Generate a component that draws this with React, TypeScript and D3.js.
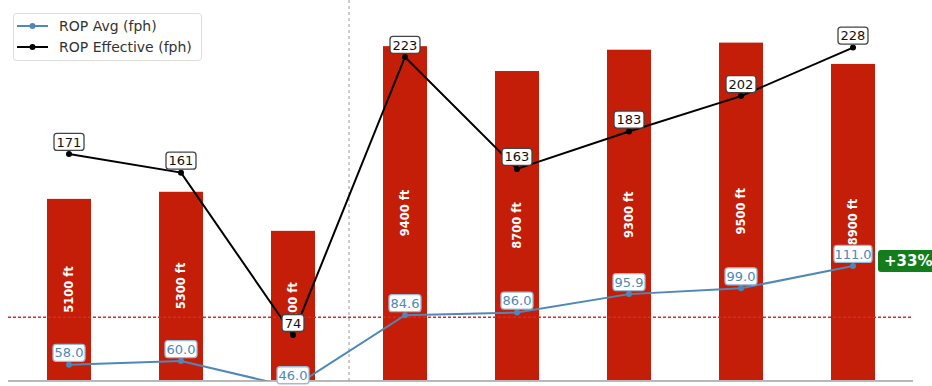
import React from "react";
import * as d3 from "d3";

// Per-well drilling data
const wells = ["W1", "W2", "W3", "W4", "W5", "W6", "W7", "W8"];
const depthFt = [5100, 5300, 4200, 9400, 8700, 9300, 9500, 8900];
const ropAvg = [58.0, 60.0, 46.0, 84.6, 86.0, 95.9, 99.0, 111.0];
const ropEffective = [171, 161, 74, 223, 163, 183, 202, 228];
const baselineAvg = 83.5;
const improvementLabel = "+33%";
const legendItems = ["ROP Avg (fph)", "ROP Effective (fph)"];

const W = 932;
const H = 386;
const plotLeft = 8;
const plotRight = 913;
const plotBottom = 381;

const RED = "#c41d08";
const BLUE = "#4d88b9";
const FONT = "DejaVu Sans, sans-serif";

function Label({ x, y, text, color, border, w }: any) {
  const h = 17;
  return (
    <g>
      <rect x={x - w / 2} y={y - h / 2} width={w} height={h} rx={3} fill="white" stroke={border} strokeWidth={1.3} />
      <text x={x} y={y + 4.6} textAnchor="middle" fontSize={13} fill={color} fontFamily={FONT}>
        {text}
      </text>
    </g>
  );
}

export default function App() {
  const x = d3.scalePoint<string>().domain(wells).range([13, 909]).padding(0.5);
  const yDepth = d3.scaleLinear().domain([0, 10700]).range([380, 0]);
  const yRop = d3.scaleLinear().domain([49.35, 253.5]).range([plotBottom, 0]);
  const barW = 44;

  const line = d3
    .line<number>()
    .x((_, i) => x(wells[i])!)
    .y((d) => yRop(d));

  const splitX = (x(wells[2])! + x(wells[3])!) / 2;

  return (
    <div style={{ position: "fixed", left: 0, top: 0 }}>
      <svg width={W} height={H} style={{ display: "block", background: "white" }}>
        <defs>
          <clipPath id="plot">
            <rect x={0} y={0} width={W} height={plotBottom} />
          </clipPath>
        </defs>
        {/* depth bars */}
        {depthFt.map((d, i) => (
          <rect key={i} x={x(wells[i])! - barW / 2} y={yDepth(d)} width={barW} height={yDepth(0) - yDepth(d)} fill={RED} />
        ))}
        {depthFt.map((d, i) => {
          const cx = x(wells[i])!;
          const cy = (yDepth(d) + yDepth(0)) / 2;
          return (
            <text
              key={i}
              transform={`translate(${cx + 4},${cy}) rotate(-90)`}
              textAnchor="middle"
              fontSize={11.5}
              fontWeight="bold"
              fill="white"
              fontFamily={FONT}
            >
              {`${d} ft`}
            </text>
          );
        })}

        {/* reference lines */}
        <line x1={splitX} x2={splitX} y1={0} y2={plotBottom} stroke="#999" strokeWidth={1} strokeDasharray="3,3" />
        <line x1={plotLeft} x2={plotRight} y1={yRop(baselineAvg)} y2={yRop(baselineAvg)} stroke="#d62b2b" strokeWidth={1.3} strokeDasharray="3,2" />

        {/* ROP lines */}
        <g clipPath="url(#plot)">
          <path d={line(ropAvg)!} fill="none" stroke={BLUE} strokeWidth={2} />
          {ropAvg.map((v, i) => (
            <circle key={i} cx={x(wells[i])!} cy={yRop(v)} r={3} fill={BLUE} />
          ))}
        </g>
        <path d={line(ropEffective)!} fill="none" stroke="black" strokeWidth={2} />
        {ropEffective.map((v, i) => (
          <circle key={i} cx={x(wells[i])!} cy={yRop(v)} r={3} fill="black" />
        ))}

        {/* bottom spine */}
        <line x1={plotLeft} x2={plotRight} y1={plotBottom} y2={plotBottom} stroke="#a0a0a0" strokeWidth={1.5} />

        {/* value labels */}
        {ropAvg.map((v, i) => {
          const py = Math.min(yRop(v), 390);
          return (
            <Label key={i} x={x(wells[i])!} y={Math.min(py - 12, 377)} text={v.toFixed(1)} color={BLUE} border="#9bbcd6" w={v >= 100 ? 38 : 32} />
          );
        })}
        {ropEffective.map((v, i) => (
          <Label key={i} x={x(wells[i])!} y={yRop(v) - 12} text={String(v)} color="#111" border="#444" w={v >= 100 ? 30 : 22} />
        ))}

        {/* improvement badge */}
        <rect x={878} y={250} width={60} height={22} rx={3} fill="#137d1b" />
        <text x={884} y={266} fontSize={15} fontWeight="bold" fill="white" fontFamily={FONT}>
          {improvementLabel}
        </text>

        {/* legend */}
        <g>
          <rect x={13.5} y={13.5} width={188} height={47} rx={3} fill="white" stroke="#ddd" strokeWidth={1} />
          {legendItems.map((t, i) => {
            const ly = 26 + i * 21;
            const c = i === 0 ? BLUE : "black";
            return (
              <g key={t}>
                <line x1={17} x2={48} y1={ly} y2={ly} stroke={c} strokeWidth={2} />
                <circle cx={32.5} cy={ly} r={3} fill={c} />
                <text x={59} y={ly + 5} fontSize={14} fill="#333" fontFamily={FONT}>
                  {t}
                </text>
              </g>
            );
          })}
        </g>
      </svg>
    </div>
  );
}
